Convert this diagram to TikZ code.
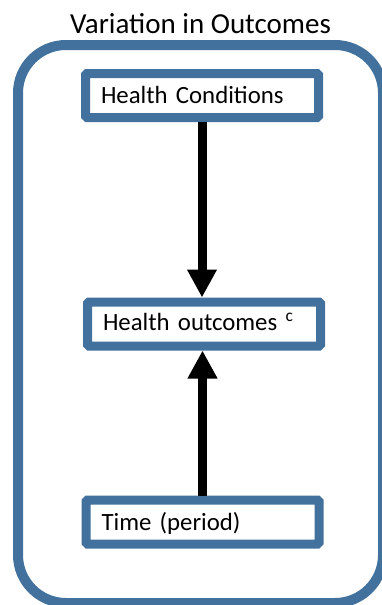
\documentclass[tikz,border=0pt]{standalone}
\usepackage{fontspec}
\setmainfont{Carlito}
\usetikzlibrary{arrows.meta}
\definecolor{frameblue}{RGB}{65,113,156}
\tikzset{
  frame/.style={draw=frameblue, line width=10pt, rounded corners=48pt},
  factor/.style={draw=frameblue, line width=9pt, rounded corners=1.5pt,
    fill=white, minimum height=44pt, inner xsep=15.5pt, inner ysep=0pt,
    text width=202pt, align=left, text height=16pt, text depth=0pt,
    font=\fontsize{24.8}{28}\selectfont},
  link/.style={line width=9pt, -{Triangle[length=28pt,width=28pt]}},
  heading/.style={font=\fontsize{29}{34}\selectfont, anchor=base, inner sep=0pt}
}
\begin{document}
\begin{tikzpicture}[x=1pt, y=-1pt]
  \useasboundingbox (0,0) rectangle (382,605);
  % outer container
  \draw[frame] (18,45) rectangle (383,603);
  \node[heading] (title) at (200.5,33) {Variation in Outcomes};
  % factor boxes
  \node[factor] (cond) at (202,95.5) {Health Conditions};
  \node[factor, minimum width=233pt] (outc) at (204,324) {\raisebox{1.5pt}{Health outcomes \textsuperscript{c}}};
  \node[factor] (time) at (202.5,522) {Time (period)};
  % causal links
  \draw[link] (cond.south) -- (cond.south |- outc.north);
  \draw[link] (time.north) -- (time.north |- outc.south);
\end{tikzpicture}
\end{document}
